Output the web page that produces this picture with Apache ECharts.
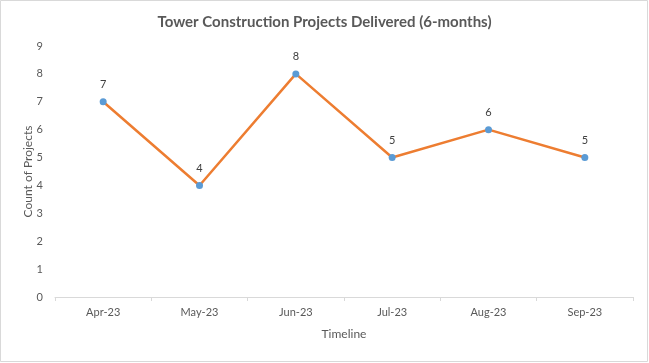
<!DOCTYPE html>
<html><head><meta charset="utf-8">
<script src="https://cdn.jsdelivr.net/npm/echarts@6/dist/echarts.min.js"></script>
<style>html,body{margin:0;padding:0;background:#fff}#c{width:649px;height:363px}</style>
</head><body><div id="c"></div>
<script>
const categories = ['Apr-23','May-23','Jun-23','Jul-23','Aug-23','Sep-23'];
const projects = [7, 4, 8, 5, 6, 5];
const yTicks = {min: 0, max: 9, interval: 1};
const chart = echarts.init(document.getElementById('c'), null, {renderer: 'canvas'});
chart.setOption({
  animation: false,
  backgroundColor: '#ffffff',
  textStyle: {fontFamily: 'Lato'},
  graphic: [{type: 'rect', shape: {x: 0.5, y: 0.5, width: 647, height: 361}, style: {fill: 'none', stroke: '#d9d9d9', lineWidth: 1}}],
  title: {text: 'Tower Construction Projects Delivered (6-months)', left: 'center', top: 10,
    textStyle: {fontFamily: 'Lato', fontSize: 15, fontWeight: 'bold', color: '#595959'}},
  grid: {left: 55, right: 16, top: 46, bottom: 66},
  xAxis: {type: 'category', data: categories, boundaryGap: true,
    name: 'Timeline', nameLocation: 'middle', nameGap: 31,
    nameTextStyle: {fontSize: 12, color: '#595959'},
    axisLine: {lineStyle: {color: '#d9d9d9'}},
    axisTick: {show: true, alignWithLabel: false, length: 4, lineStyle: {color: '#d9d9d9'}},
    axisLabel: {fontSize: 11, color: '#595959', margin: 10}},
  yAxis: {type: 'value', min: yTicks.min, max: yTicks.max, interval: yTicks.interval,
    name: 'Count of Projects', nameLocation: 'middle', nameGap: 21, nameRotate: 90,
    nameMoveOverlap: false,
    nameTextStyle: {fontSize: 12, color: '#595959'},
    axisLine: {show: false}, axisTick: {show: false}, splitLine: {show: false},
    axisLabel: {fontSize: 11, color: '#595959', margin: 12}},
  series: [{type: 'line', data: projects, symbol: 'circle', symbolSize: 7,
    lineStyle: {color: '#ED7D31', width: 2.5}, itemStyle: {color: '#5B9BD5'},
    label: {show: true, position: 'top', distance: 8, fontSize: 11, color: '#404040'}}]
});
</script></body></html>
